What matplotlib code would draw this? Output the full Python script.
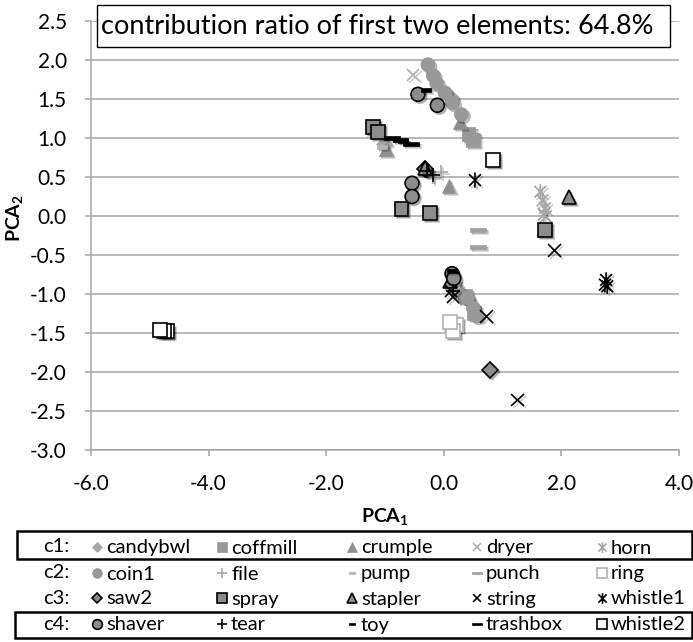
import matplotlib
matplotlib.use("Agg")
import matplotlib.pyplot as plt
import matplotlib.patheffects as pe
from matplotlib.path import Path
from matplotlib.patches import Rectangle

plt.rcParams['font.family'] = ['Lato', 'DejaVu Sans']
plt.rcParams['mathtext.fontset'] = 'custom'
plt.rcParams['mathtext.rm'] = 'Lato'
plt.rcParams['mathtext.bf'] = 'Lato:bold'

# ---------------- data (PCA1, PCA2) ----------------
candybwl_pc1 = [-1.02, 0.12, 0.42]
candybwl_pc2 = [0.92, 1.52, -1.08]
coffmill_pc1 = [0.42, 0.50, 0.36, 0.52]
coffmill_pc2 = [1.05, 0.98, -1.02, -1.24]
crumple_pc1 = [0.28, -0.98, 0.08, 0.30]
crumple_pc2 = [1.20, 0.86, 0.38, -0.96]
dryer_pc1 = [-0.52, 1.70]
dryer_pc2 = [1.81, 0.02]
horn_pc1 = [1.64, 1.68, 1.72, 1.70]
horn_pc2 = [0.31, 0.20, 0.10, 0.02]

coin1_pc1 = [-0.27, -0.18, -0.12, 0.02, 0.15, 0.30, 0.40, 0.50, 0.56]
coin1_pc2 = [1.94, 1.80, 1.70, 1.58, 1.45, 1.30, -1.05, -1.18, -1.28]
file_pc1 = [-0.32, -0.05, -0.18]
file_pc2 = [0.62, 0.57, 0.50]
pump_pc1 = [-1.05, 0.20]
pump_pc2 = [0.88, -0.85]
punch_pc1 = [0.58, 0.58]
punch_pc2 = [-0.18, -0.40]
ring_pc1 = [0.20, 0.16, 0.11]
ring_pc2 = [-1.40, -1.48, -1.36]

saw2_pc1 = [0.79, -0.32]
saw2_pc2 = [-1.97, 0.60]
spray_pc1 = [-1.20, -1.12, -0.72, -0.24, 1.72]
spray_pc2 = [1.14, 1.08, 0.09, 0.04, -0.18]
stapler_pc1 = [2.13, 0.11, -0.32]
stapler_pc2 = [0.24, -0.84, 0.62]
string_pc1 = [1.88, 0.16, 0.73, 1.25, 0.12]
string_pc2 = [-0.44, -1.04, -1.29, -2.36, -0.96]
whistle1_pc1 = [0.53, 2.76, 2.78, 2.74]
whistle1_pc2 = [0.46, -0.82, -0.90, -0.88]

shaver_pc1 = [-0.44, -0.11, -0.54, -0.54, 0.14, 0.17]
shaver_pc2 = [1.56, 1.42, 0.42, 0.25, -0.74, -0.80]
tear_pc1 = [-0.28, -0.18, 0.16]
tear_pc2 = [0.58, 0.52, -0.96]
toy_pc1 = [-0.30, -0.70, 0.14]
toy_pc2 = [1.62, 0.96, -0.70]
trashbox_pc1 = [-0.88, -0.74, -0.56]
trashbox_pc2 = [1.00, 0.97, 0.92]
whistle2_pc1 = [0.84, -4.70, -4.75, -4.82]
whistle2_pc2 = [0.72, -1.48, -1.47, -1.46]

group_labels = ['c1:', 'c2:', 'c3:', 'c4:']
group_members = [
    ['candybwl', 'coffmill', 'crumple', 'dryer', 'horn'],
    ['coin1', 'file', 'pump', 'punch', 'ring'],
    ['saw2', 'spray', 'stapler', 'string', 'whistle1'],
    ['shaver', 'tear', 'toy', 'trashbox', 'whistle2'],
]
title_text = 'contribution ratio of first two elements: 64.8%'

# ---------------- marker shapes ----------------
asterisk = Path([(-1, -1), (1, 1), (-1, 1), (1, -1), (0, -1.3), (0, 1.3)],
                [Path.MOVETO, Path.LINETO, Path.MOVETO, Path.LINETO, Path.MOVETO, Path.LINETO])
short_dash = Path([(-1, -0.4), (1, -0.4), (1, 0.4), (-1, 0.4), (-1, -0.4)],
                  [Path.MOVETO, Path.LINETO, Path.LINETO, Path.LINETO, Path.CLOSEPOLY])
long_dash = Path([(-1, -0.25), (1, -0.25), (1, 0.25), (-1, 0.25), (-1, -0.25)],
                 [Path.MOVETO, Path.LINETO, Path.LINETO, Path.LINETO, Path.CLOSEPOLY])

G = '#8c8c8c'
styles = {
    'candybwl': dict(marker='D', mfc='#a6a6a6', mec='#a6a6a6', ms=8, mew=0.5),
    'coffmill': dict(marker='s', mfc='#999999', mec='#999999', ms=10, mew=0.5),
    'crumple':  dict(marker='^', mfc='#8f8f8f', mec='#8f8f8f', ms=10, mew=0.5),
    'dryer':    dict(marker='x', mfc='none', mec='#b3b3b3', ms=9, mew=1.2),
    'horn':     dict(marker=asterisk, mfc='none', mec='#a6a6a6', ms=11, mew=1.2),
    'coin1':    dict(marker='o', mfc='#999999', mec='#999999', ms=10, mew=0.5),
    'file':     dict(marker='+', mfc='none', mec='#a6a6a6', ms=10, mew=1.2),
    'pump':     dict(marker=short_dash, mfc='#b3b3b3', mec='#b3b3b3', ms=7, mew=0.5),
    'punch':    dict(marker=long_dash, mfc='#a0a0a0', mec='#a0a0a0', ms=11, mew=0.5),
    'ring':     dict(marker='s', mfc='white', mec='#b3b3b3', ms=10, mew=1.2),
    'saw2':     dict(marker='D', mfc=G, mec='black', ms=8, mew=1.2),
    'spray':    dict(marker='s', mfc=G, mec='black', ms=10, mew=1.2),
    'stapler':  dict(marker='^', mfc=G, mec='black', ms=10, mew=1.2),
    'string':   dict(marker='x', mfc='none', mec='black', ms=9, mew=1.2),
    'whistle1': dict(marker=asterisk, mfc='none', mec='black', ms=11, mew=1.2),
    'shaver':   dict(marker='o', mfc=G, mec='black', ms=10, mew=1.2),
    'tear':     dict(marker='+', mfc='none', mec='black', ms=10, mew=1.2),
    'toy':      dict(marker=short_dash, mfc='black', mec='black', ms=7, mew=0.5),
    'trashbox': dict(marker=long_dash, mfc='black', mec='black', ms=11, mew=0.5),
    'whistle2': dict(marker='s', mfc='white', mec='black', ms=10, mew=1.2),
}

data = {
    'candybwl': (candybwl_pc1, candybwl_pc2), 'coffmill': (coffmill_pc1, coffmill_pc2),
    'crumple': (crumple_pc1, crumple_pc2), 'dryer': (dryer_pc1, dryer_pc2),
    'horn': (horn_pc1, horn_pc2), 'coin1': (coin1_pc1, coin1_pc2),
    'file': (file_pc1, file_pc2), 'pump': (pump_pc1, pump_pc2),
    'punch': (punch_pc1, punch_pc2), 'ring': (ring_pc1, ring_pc2),
    'saw2': (saw2_pc1, saw2_pc2), 'spray': (spray_pc1, spray_pc2),
    'stapler': (stapler_pc1, stapler_pc2), 'string': (string_pc1, string_pc2),
    'whistle1': (whistle1_pc1, whistle1_pc2), 'shaver': (shaver_pc1, shaver_pc2),
    'tear': (tear_pc1, tear_pc2), 'toy': (toy_pc1, toy_pc2),
    'trashbox': (trashbox_pc1, trashbox_pc2), 'whistle2': (whistle2_pc1, whistle2_pc2),
}

W, H = 693, 642
fig = plt.figure(figsize=(W / 100, H / 100), dpi=100)

ax = fig.add_axes([91 / W, 1 - 450 / H, 588 / W, 429 / H])
ax.set_xlim(-6, 4)
ax.set_ylim(-3, 2.5)
ax.set_xticks([-6, -4, -2, 0, 2, 4])
ax.set_yticks([-3, -2.5, -2, -1.5, -1, -0.5, 0, 0.5, 1, 1.5, 2, 2.5])
ax.xaxis.set_major_formatter(matplotlib.ticker.FormatStrFormatter('%.1f'))
ax.yaxis.set_major_formatter(matplotlib.ticker.FormatStrFormatter('%.1f'))
ax.grid(axis='y', color='#a6a6a6', linewidth=1.1)
ax.set_axisbelow(True)
for s in ['top', 'right']:
    ax.spines[s].set_visible(False)
for s in ['left', 'bottom']:
    ax.spines[s].set_color('#a6a6a6')
    ax.spines[s].set_linewidth(1.1)
ax.tick_params(axis='y', length=4.5, width=1.1, color='#a6a6a6', pad=13, labelsize=15)
ax.tick_params(axis='x', length=4, width=1.1, color='#a6a6a6', pad=13, labelsize=15)
ax.set_xlabel(r'$\mathbf{PCA_1}$', fontsize=14, labelpad=9)
ax.set_ylabel(r'$\mathbf{PCA_2}$', fontsize=14, labelpad=0)
ax.yaxis.set_label_coords(-0.112, 0.54)

shadow = [pe.SimplePatchShadow(offset=(1.5, -1.5), shadow_rgbFace='black', alpha=0.25),
          pe.SimpleLineShadow(offset=(1.5, -1.5), shadow_color='black', alpha=0.2),
          pe.Normal()]

for members in group_members:
    for name in members:
        px, py = data[name]
        st = styles[name]
        ax.plot(px, py, linestyle='none', marker=st['marker'], markerfacecolor=st['mfc'],
                markeredgecolor=st['mec'], markersize=st['ms'], markeredgewidth=st['mew'],
                path_effects=shadow, clip_on=False, zorder=3)

# title box
fig.patches.append(Rectangle((97 / W, 1 - 47 / H), (670 - 97) / W, 42 / H,
                             transform=fig.transFigure, facecolor='white',
                             edgecolor='black', linewidth=1.0, zorder=5))
fig.text(101 / W, 1 - 26 / H, title_text, fontsize=19.5, ha='left', va='center', zorder=6)

# legend table
lax = fig.add_axes([0, 0, 1, 1], zorder=-1)
lax.set_xlim(0, W)
lax.set_ylim(H, 0)
lax.axis('off')
row_y = [547, 573, 598, 624]
col_marker_x = [97, 222, 352, 477, 602]
for r, (lab, members) in enumerate(zip(group_labels, group_members)):
    lax.text(43, row_y[r], lab, fontsize=14.5, ha='left', va='center')
    for c, name in enumerate(members):
        st = styles[name]
        ms = st['ms'] * 0.7
        lax.plot([col_marker_x[c]], [row_y[r]], linestyle='none', marker=st['marker'],
                 markerfacecolor=st['mfc'], markeredgecolor=st['mec'], markersize=ms,
                 markeredgewidth=st['mew'])
        lax.text(col_marker_x[c] + 9, row_y[r] + 1, name, fontsize=14.5, ha='left', va='center')

fig.patches.append(Rectangle((17 / W, 1 - 559 / H), (692 - 17) / W, 28 / H,
                             transform=fig.transFigure, facecolor='none',
                             edgecolor='black', linewidth=1.8))
fig.patches.append(Rectangle((15 / W, 1 - 638 / H), (692 - 15) / W, 26 / H,
                             transform=fig.transFigure, facecolor='none',
                             edgecolor='black', linewidth=1.8))

fig.savefig('out.png', dpi=100)
